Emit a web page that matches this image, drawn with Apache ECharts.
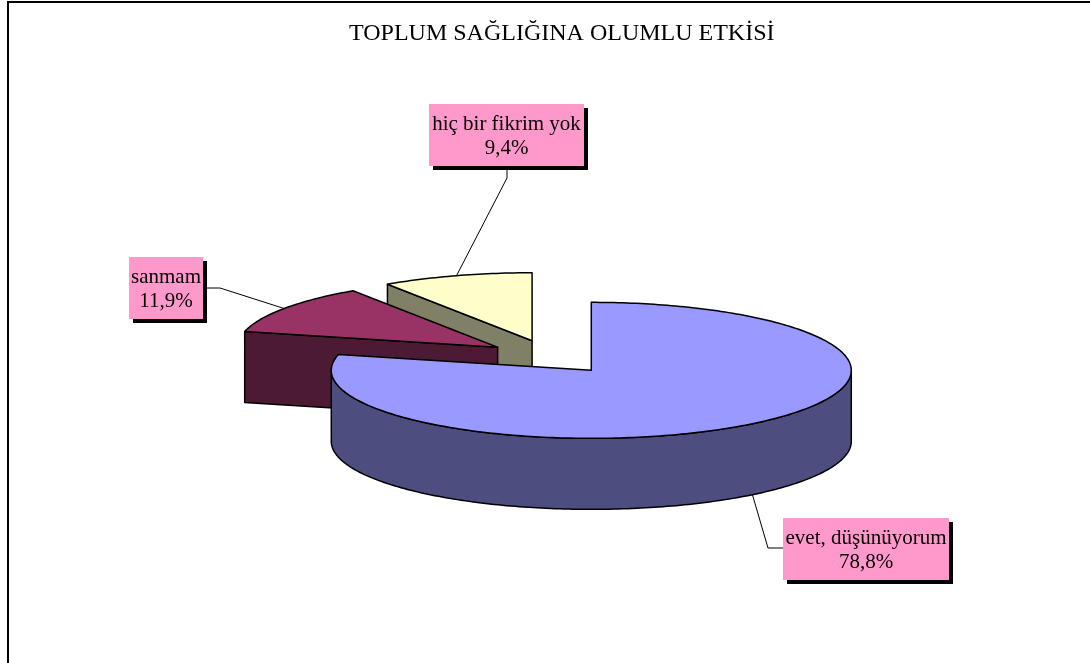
<!DOCTYPE html>
<html>
<head>
<meta charset="utf-8">
<title>TOPLUM SAĞLIĞINA OLUMLU ETKİSİ</title>
<script src="https://cdn.jsdelivr.net/npm/echarts@6/dist/echarts.min.js"></script>
<style>
html, body { margin: 0; padding: 0; background: #fff; }
#chart { width: 1090px; height: 663px; }
</style>
</head>
<body>
<div id="chart"></div>
<script>
var categories = ['evet, düşünüyorum', 'sanmam', 'hiç bir fikrim yok'];
var values = [78.8, 11.9, 9.4];
var topColors = ['#9999FF', '#993366', '#FFFFCC'];
var sideColors = ['#4D4D80', '#4D1A33', '#808066'];

// label boxes and leader elbows (layout only)
var labelBoxes = [
    {x: 783, y: 518, w: 166, h: 62, elbow: [[768, 548], [783, 548]]},
    {x: 129, y: 257, w: 74, h: 62, elbow: [[220, 288], [203, 288]]},
    {x: 429, y: 104, w: 155, h: 62, elbow: [[507, 178], [507, 166]]}
];

// tilted pie geometry
var pie = {cx: 551, cy: 357, rx: 260, ry: 68, depth: 71, explode: 65};

var total = values.reduce(function (a, b) { return a + b; }, 0);
var startAngles = [];
var acc = 0;
values.forEach(function (v) { startAngles.push(acc / total * 360); acc += v; });

function pt(c, deg, dy) {
    var r = deg * Math.PI / 180;
    return [c[0] + pie.rx * Math.sin(r), c[1] - pie.ry * Math.cos(r) + (dy || 0)];
}
function arc(c, a0, a1, dy) {
    var pts = [], n = Math.max(2, Math.ceil(Math.abs(a1 - a0)));
    for (var i = 0; i <= n; i++) pts.push(pt(c, a0 + (a1 - a0) * i / n, dy));
    return pts;
}

function renderItem(params, api) {
    var i = params.dataIndex;
    var a0 = startAngles[i];
    var a1 = a0 + api.value(0) / total * 360;
    var midDeg = (a0 + a1) / 2, mid = midDeg * Math.PI / 180;
    var c = [pie.cx + pie.explode * Math.sin(mid),
             pie.cy - pie.explode * pie.ry / pie.rx * Math.cos(mid)];
    var d = pie.depth;
    var base = Math.round(c[1]) * 10;
    var kids = [];

    function sideStyle() {
        return {fill: sideColors[i], stroke: '#000', lineWidth: 1.5, lineJoin: 'round'};
    }
    // front part of outer wall
    var s = Math.max(a0, 90), e = Math.min(a1, 270);
    if (e > s) {
        kids.push({type: 'polygon', z2: base,
            shape: {points: arc(c, s, e, 0).concat(arc(c, e, s, d))}, style: sideStyle()});
    }
    // radial cut faces that face the viewer
    function face(a) {
        var p = pt(c, a, 0);
        return {type: 'polygon', z2: base,
            shape: {points: [c, p, [p[0], p[1] + d], [c[0], c[1] + d]]}, style: sideStyle()};
    }
    if (Math.sin(a0 * Math.PI / 180) < -1e-6) kids.push(face(a0));
    if (Math.sin(a1 * Math.PI / 180) > 1e-6) kids.push(face(a1));
    // top face
    kids.push({type: 'polygon', z2: base + 1,
        shape: {points: [c].concat(arc(c, a0, a1, 0))},
        style: {fill: topColors[i], stroke: '#000', lineWidth: 1.5, lineJoin: 'round'}});

    // leader line and label
    var lb = labelBoxes[i];
    var anchor = pt(c, midDeg, Math.cos(mid) < 0 ? d : 0);
    kids.push({type: 'polyline', z2: 9000,
        shape: {points: [anchor].concat(lb.elbow)},
        style: {stroke: '#000', lineWidth: 1, fill: null}});
    kids.push({type: 'rect', z2: 9001,
        shape: {x: lb.x + 4, y: lb.y + 4, width: lb.w, height: lb.h},
        style: {fill: '#000'}});
    kids.push({type: 'rect', z2: 9002,
        shape: {x: lb.x, y: lb.y, width: lb.w, height: lb.h},
        style: {fill: '#FF99CC'}});
    kids.push({type: 'text', z2: 9003,
        style: {
            x: lb.x + lb.w / 2, y: lb.y + lb.h / 2 + 1,
            text: categories[i] + '\n' + values[i].toFixed(1).replace('.', ',') + '%',
            font: '21px "Liberation Serif"', fill: '#000',
            align: 'center', verticalAlign: 'middle', lineHeight: 24
        }});
    return {type: 'group', children: kids};
}

var myChart = echarts.init(document.getElementById('chart'));
var option = {
    animation: false,
    backgroundColor: '#fff',
    title: {
        text: 'TOPLUM SAĞLIĞINA OLUMLU ETKİSİ',
        left: 349,
        top: 22,
        padding: 0,
        textStyle: {fontFamily: 'Liberation Serif', fontSize: 24, fontWeight: 'normal', color: '#000'}
    },
    graphic: [{
        type: 'rect', silent: true,
        shape: {x: 8, y: 2, width: 1300, height: 900},
        style: {fill: 'none', stroke: '#000', lineWidth: 2}
    }],
    series: [{
        type: 'custom',
        coordinateSystem: 'none',
        renderItem: renderItem,
        data: values.map(function (v, i) { return {name: categories[i], value: v}; })
    }]
};
myChart.setOption(option);
</script>
</body>
</html>
